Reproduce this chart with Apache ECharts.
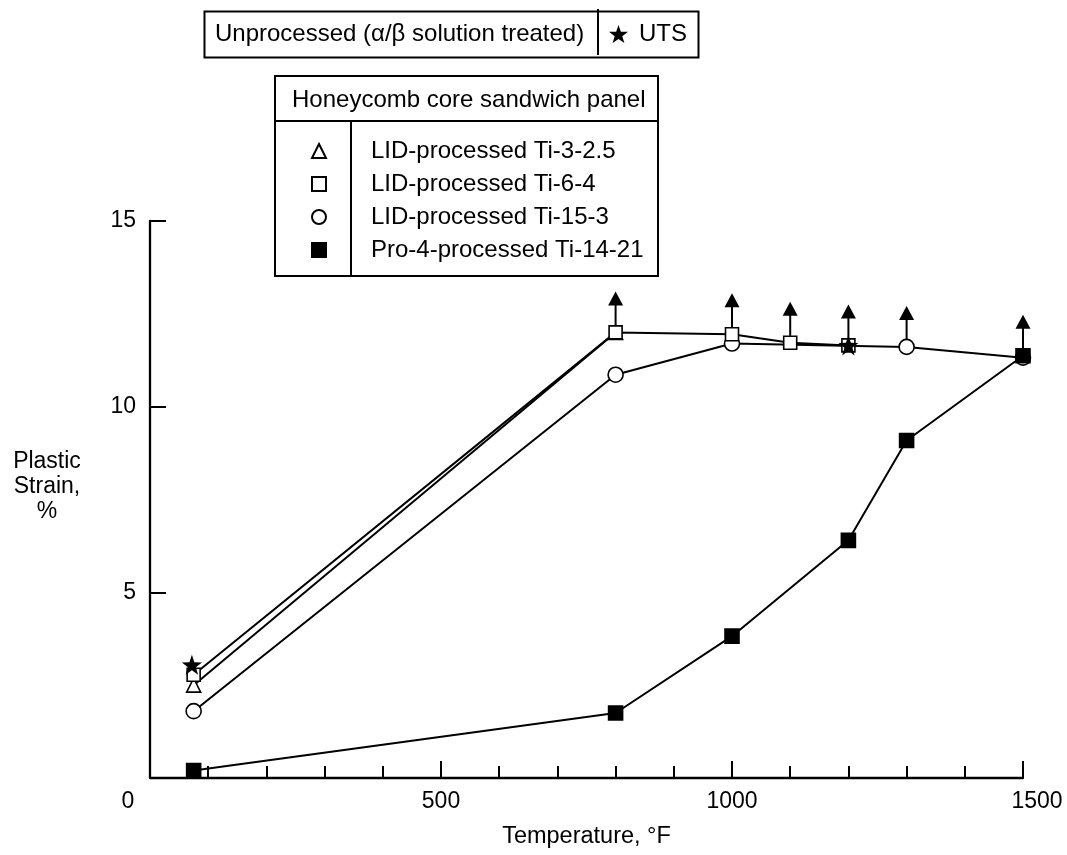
<!DOCTYPE html>
<html>
<head>
<meta charset="utf-8">
<title>Plastic strain vs temperature</title>
<script src="https://cdn.jsdelivr.net/npm/echarts/dist/echarts.min.js"></script>
<style>
  html, body { margin: 0; padding: 0; background: #fff; }
  #chart { width: 1067px; height: 855px; }
</style>
</head>
<body>
<div id="chart"></div>
<script>
// data (temperature in F, plastic strain in %)
var tempTi3 = [75, 800];
var strainTi3 = [2.5, 12.0];

var tempTi6 = [75, 800, 1000, 1100, 1200];
var strainTi6 = [2.78, 12.0, 11.95, 11.72, 11.65];

var tempTi15 = [75, 800, 1000, 1300, 1500];
var strainTi15 = [1.8, 10.86, 11.7, 11.61, 11.32];

var tempTi14 = [75, 800, 1000, 1200, 1300, 1500];
var strainTi14 = [0.2, 1.75, 3.82, 6.4, 9.09, 11.37];

var tempUTS = [72, 1200];
var strainUTS = [3.05, 11.65];

// points where the specimen did not fail (arrow pointing up)
var arrowTemps = [800, 1000, 1100, 1200, 1300, 1500];
var arrowStrain = [12.0, 11.95, 11.72, 11.65, 11.61, 11.37];

var xTicks = [0, 500, 1000, 1500];
var yTicks = [5, 10, 15];

var FONT = 'Liberation Sans, Arial, Helvetica, sans-serif';
var STAR = 'path://M0,-10 L2.35,-3.24 L9.51,-3.09 L3.8,1.24 L5.88,8.09 L0,4 L-5.88,8.09 L-3.8,1.24 L-9.51,-3.09 L-2.35,-3.24 Z';

function pairs(xs, ys) {
  var out = [];
  for (var i = 0; i < xs.length; i++) {
    out.push([xs[i], ys[i]]);
  }
  return out;
}

function lineSeries(name, xs, ys, symbol, size, filled) {
  return {
    name: name,
    type: 'line',
    data: pairs(xs, ys),
    symbol: symbol,
    symbolSize: size,
    showAllSymbol: true,
    lineStyle: { color: '#000', width: 2 },
    itemStyle: {
      color: filled ? '#000' : '#fff',
      borderColor: '#000',
      borderWidth: 1.6
    },
    emphasis: { disabled: true },
    animation: false
  };
}

var chart = echarts.init(document.getElementById('chart'));

var option = {
  backgroundColor: '#fff',
  animation: false,
  grid: {
    left: 150,
    right: 44,
    top: 221,
    bottom: 77,
    outerBoundsMode: 'none'
  },
  xAxis: {
    type: 'value',
    min: 0,
    max: 1500,
    interval: 500,
    name: 'Temperature, \u00b0F',
    nameLocation: 'middle',
    nameGap: 47,
    nameTextStyle: { fontFamily: FONT, fontSize: 23.5, color: '#000' },
    axisLine: { show: true, onZero: false, lineStyle: { color: '#000', width: 2.3 } },
    axisTick: { show: true, inside: true, length: 17, lineStyle: { color: '#000', width: 2 } },
    minorTick: { show: true, splitNumber: 5, length: 12, lineStyle: { color: '#000', width: 2 } },
    splitLine: { show: false },
    minorSplitLine: { show: false },
    axisLabel: {
      margin: 12,
      color: '#000',
      fontFamily: FONT,
      fontSize: 23,
      formatter: function (v) {
        if (xTicks.indexOf(v) < 0) return '';
        if (v === 0) return '{a|0}';
        if (v === 1500) return '{b|1500}';
        return String(v);
      },
      rich: {
        a: { fontFamily: FONT, fontSize: 23, color: '#000', padding: [0, 44, 0, 0] },
        b: { fontFamily: FONT, fontSize: 23, color: '#000', padding: [0, 0, 0, 28] }
      }
    }
  },
  yAxis: {
    type: 'value',
    min: 0,
    max: 15,
    interval: 5,
    // trailing empty line lifts the block to where the original sits
    name: 'Plastic\nStrain,\n%\n ',
    nameLocation: 'middle',
    nameRotate: 0,
    nameGap: 103,
    nameTextStyle: {
      fontFamily: FONT,
      fontSize: 23,
      color: '#000',
      align: 'center',
      verticalAlign: 'middle',
      lineHeight: 25
    },
    axisLine: { show: true, onZero: false, lineStyle: { color: '#000', width: 2.3 } },
    axisTick: { show: true, inside: true, length: 16, lineStyle: { color: '#000', width: 2 } },
    splitLine: { show: false },
    axisLabel: {
      margin: 14,
      color: '#000',
      fontFamily: FONT,
      fontSize: 23,
      showMinLabel: false,
      formatter: function (v) {
        return yTicks.indexOf(v) < 0 ? '' : String(v);
      }
    }
  },
  legend: [
    {
      orient: 'vertical',
      left: 306,
      top: 134,
      itemWidth: 14,
      itemHeight: 14,
      itemGap: 9,
      selectedMode: false,
      textStyle: { fontFamily: FONT, fontSize: 24, color: '#000', padding: [0, 0, 0, 40] },
      data: [
        { name: 'LID-processed Ti-3-2.5', icon: 'triangle' },
        { name: 'LID-processed Ti-6-4', icon: 'rect' },
        { name: 'LID-processed Ti-15-3', icon: 'circle' },
        { name: 'Pro-4-processed Ti-14-21', icon: 'rect' }
      ]
    },
    {
      orient: 'horizontal',
      left: 604,
      top: 17,
      itemWidth: 19,
      itemHeight: 19,
      selectedMode: false,
      textStyle: { fontFamily: FONT, fontSize: 24, color: '#000', padding: [0, 0, 0, 6] },
      data: [{ name: 'UTS', icon: STAR, itemStyle: { color: '#000' } }]
    }
  ],
  graphic: [
    // upper box: unprocessed / UTS
    { type: 'rect', left: 202, top: 9, shape: { width: 494, height: 46 },
      style: { fill: null, stroke: '#000', lineWidth: 2 }, z: 10 },
    { type: 'line', shape: { x1: 598, y1: 9, x2: 598, y2: 55 },
      style: { stroke: '#000', lineWidth: 2 }, z: 10 },
    { type: 'text', x: 215, y: 34,
      style: { text: 'Unprocessed (\u03b1/\u03b2 solution treated)', fontFamily: FONT, fontSize: 24,
        fill: '#000', textVerticalAlign: 'middle', verticalAlign: 'middle' }, z: 10 },
    // lower box: honeycomb panels
    { type: 'rect', left: 274, top: 75, shape: { width: 383, height: 200 },
      style: { fill: '#fff', stroke: '#000', lineWidth: 2 }, z: 1 },
    { type: 'line', shape: { x1: 274, y1: 121, x2: 657, y2: 121 },
      style: { stroke: '#000', lineWidth: 2 }, z: 10 },
    { type: 'line', shape: { x1: 351, y1: 121, x2: 351, y2: 275 },
      style: { stroke: '#000', lineWidth: 2 }, z: 10 },
    { type: 'text', x: 292, y: 100,
      style: { text: 'Honeycomb core sandwich panel', fontFamily: FONT, fontSize: 24,
        fill: '#000', textVerticalAlign: 'middle', verticalAlign: 'middle' }, z: 10 }
  ],
  series: [
    lineSeries('LID-processed Ti-15-3', tempTi15, strainTi15, 'circle', 15, false),
    lineSeries('LID-processed Ti-3-2.5', tempTi3, strainTi3, 'triangle', 14, false),
    lineSeries('LID-processed Ti-6-4', tempTi6, strainTi6, 'rect', 13, false),
    lineSeries('Pro-4-processed Ti-14-21', tempTi14, strainTi14, 'rect', 14, true),
    {
      name: 'UTS',
      type: 'scatter',
      data: pairs(tempUTS, strainUTS),
      symbol: STAR,
      symbolSize: 20,
      itemStyle: { color: '#000', opacity: 1 },
      emphasis: { disabled: true },
      z: 6
    },
    {
      name: 'arrows',
      type: 'custom',
      data: pairs(arrowTemps, arrowStrain),
      z: 4,
      renderItem: function (params, api) {
        var p = api.coord([api.value(0), api.value(1)]);
        var x = p[0], y = p[1];
        return {
          type: 'group',
          children: [
            { type: 'line', shape: { x1: x, y1: y - 7, x2: x, y2: y - 28 },
              style: { stroke: '#000', lineWidth: 2 } },
            { type: 'polygon', shape: { points: [[x, y - 41], [x - 7.5, y - 27], [x + 7.5, y - 27]] },
              style: { fill: '#000' } }
          ]
        };
      }
    }
  ]
};

chart.setOption(option);
</script>
</body>
</html>
